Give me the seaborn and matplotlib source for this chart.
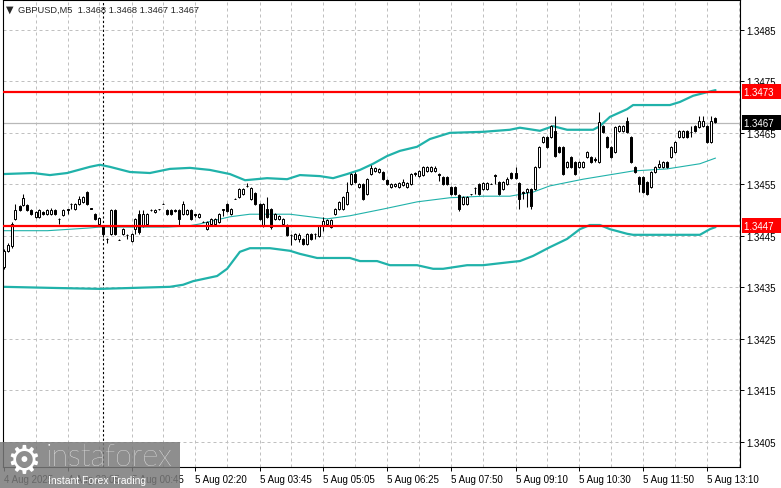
import matplotlib
matplotlib.use("Agg")
import numpy as np
import pandas as pd
import seaborn as sns
import matplotlib.pyplot as plt
import matplotlib.transforms as mtransforms
from matplotlib.patches import Rectangle

# prices are stored as pips above this level
BASE = 1.3400

# GBPUSD M5 candles (pips above 1.3400)
opens_pips = [
    38.9, 42.1, 43.0, 48.3, 50.8, 51.0, 51.0, 50.0, 48.7, 48.7,
    49.6, 49.2, 49.2, 50.0, 48.3, 49.1, 50.2, 51.2, 50.2, 51.2,
    51.6, 53.5, 50.4, 49.2, 47.3, 46.9, 44.4, 45.4, 50.0, 44.2,
    45.4, 45.2, 44.0, 46.3, 49.2, 46.9, 47.3, 50.0, 49.6, 50.2,
    51.2, 50.0, 50.0, 50.0, 50.0, 49.2, 49.2, 50.0, 49.2, 48.7,
    47.7, 46.3, 47.3, 47.3, 47.7, 50.2, 51.2, 49.2, 52.2, 52.5,
    53.1, 54.7, 52.2, 53.3, 51.2, 46.9, 50.2, 50.2, 48.3, 48.3,
    47.3, 47.1, 45.2, 44.4, 44.4, 44.4, 43.4, 45.4, 45.4, 45.0,
    46.9, 47.3, 46.7, 49.2, 50.2, 50.2, 51.2, 55.1, 57.0, 54.5,
    55.1, 53.1, 57.0, 57.6, 57.4, 57.4, 55.8, 54.5, 54.7, 54.5,
    54.9, 54.5, 55.1, 57.2, 56.6, 56.8, 57.6, 57.6, 57.6, 57.0,
    56.4, 56.4, 54.5, 54.5, 52.9, 51.2, 51.2, 53.1, 54.3, 55.1,
    54.1, 54.1, 55.1, 56.8, 55.5, 54.1, 55.1, 57.2, 57.2, 55.3,
    53.5, 53.5, 54.1, 54.1, 58.4, 63.2, 64.2, 64.2, 65.4, 62.3,
    62.3, 58.4, 60.3, 59.3, 58.4, 58.4, 60.3, 60.3, 59.9, 59.3,
    66.3, 64.2, 62.3, 61.3, 65.4, 65.4, 67.3, 64.2, 58.4, 56.4,
    56.4, 55.5, 54.5, 57.4, 58.4, 58.4, 59.3, 60.3, 61.3, 64.2,
    64.2, 65.4, 65.2, 66.3, 66.1, 66.3, 66.3, 63.2, 67.9,
]
highs_pips = [
    42.5, 43.6, 47.6, 51.2, 51.0, 53.1, 51.2, 50.2, 49.8, 50.2,
    49.8, 50.2, 50.4, 50.2, 48.5, 50.2, 50.3, 51.3, 51.4, 52.7,
    52.7, 53.7, 50.5, 49.4, 48.7, 47.1, 44.6, 50.2, 50.2, 44.3,
    46.5, 45.3, 45.6, 48.5, 50.0, 50.0, 49.4, 50.2, 50.2, 50.3,
    51.3, 50.2, 50.2, 50.2, 50.2, 51.8, 50.2, 50.2, 49.3, 49.4,
    47.8, 47.9, 48.5, 48.5, 49.4, 50.3, 51.4, 50.4, 52.3, 54.3,
    54.3, 55.3, 54.5, 53.5, 51.4, 51.4, 52.5, 50.4, 49.4, 49.1,
    48.5, 47.3, 45.4, 45.6, 45.6, 44.6, 45.6, 45.6, 45.5, 47.1,
    48.7, 48.3, 48.3, 50.4, 51.8, 52.7, 55.5, 57.2, 57.4, 55.3,
    55.3, 56.2, 58.8, 58.4, 58.2, 57.6, 56.0, 55.3, 55.3, 55.5,
    56.0, 55.5, 57.2, 57.4, 57.8, 58.6, 58.6, 58.6, 58.6, 57.2,
    56.6, 56.6, 54.7, 54.7, 53.1, 52.7, 52.7, 53.2, 54.4, 55.3,
    55.5, 55.5, 55.2, 57.0, 55.7, 55.7, 56.4, 57.4, 58.4, 55.5,
    53.7, 54.3, 54.3, 58.6, 62.5, 64.4, 64.4, 66.5, 68.3, 62.5,
    62.5, 59.5, 60.5, 59.5, 59.5, 59.5, 61.5, 60.5, 60.3, 69.1,
    66.5, 64.4, 62.5, 66.3, 66.5, 66.5, 68.1, 64.4, 58.6, 56.6,
    56.6, 55.7, 57.6, 58.6, 59.8, 59.5, 59.5, 62.5, 63.4, 65.6,
    65.6, 65.6, 66.3, 66.5, 68.3, 68.3, 66.5, 68.3, 68.1,
]
lows_pips = [
    38.5, 41.8, 42.6, 48.0, 49.8, 50.8, 49.8, 49.0, 48.5, 48.5,
    49.0, 49.0, 49.0, 49.0, 47.3, 48.9, 49.2, 50.2, 50.0, 51.0,
    51.4, 51.0, 50.2, 48.1, 47.1, 44.8, 43.6, 45.2, 45.2, 44.1,
    45.2, 44.4, 43.8, 45.4, 45.4, 46.7, 47.1, 49.8, 49.4, 50.1,
    51.1, 49.0, 49.0, 49.6, 46.9, 49.0, 49.0, 48.1, 48.7, 48.5,
    47.6, 46.1, 47.1, 47.1, 47.5, 48.9, 49.6, 49.0, 52.1, 52.3,
    52.9, 54.5, 52.0, 51.0, 48.1, 46.7, 48.5, 46.3, 48.1, 48.1,
    47.1, 45.0, 43.2, 44.2, 43.8, 43.2, 43.2, 44.2, 44.4, 44.8,
    45.9, 47.1, 46.5, 49.0, 50.0, 50.0, 51.0, 54.9, 55.3, 54.3,
    52.0, 52.9, 56.8, 57.4, 57.2, 55.8, 54.9, 54.3, 54.5, 54.3,
    54.7, 54.3, 54.9, 56.6, 56.4, 56.6, 57.4, 57.4, 57.4, 55.6,
    54.9, 54.9, 52.9, 52.9, 49.8, 51.0, 51.0, 53.0, 53.1, 52.9,
    53.9, 53.9, 55.0, 55.1, 52.9, 53.9, 54.9, 56.0, 56.0, 50.2,
    52.2, 50.6, 50.2, 53.9, 58.2, 63.0, 62.1, 64.0, 60.3, 61.1,
    56.8, 58.2, 58.2, 56.8, 58.2, 58.2, 60.1, 59.1, 59.3, 59.1,
    65.0, 62.1, 60.1, 61.1, 65.2, 65.2, 65.0, 59.1, 57.2, 53.5,
    53.3, 52.9, 54.3, 57.2, 58.2, 58.2, 58.2, 60.1, 61.1, 64.0,
    64.0, 64.0, 64.2, 65.2, 65.9, 66.1, 63.0, 63.0, 67.0,
]
closes_pips = [
    42.1, 43.2, 47.3, 50.0, 50.0, 52.4, 50.0, 49.2, 49.6, 50.0,
    49.2, 50.0, 50.0, 49.2, 48.2, 50.0, 50.1, 51.1, 51.2, 52.2,
    52.5, 51.2, 50.3, 48.3, 48.5, 45.4, 44.3, 50.0, 45.4, 44.2,
    46.3, 45.1, 45.4, 48.3, 45.8, 49.2, 49.2, 50.0, 50.0, 50.2,
    51.2, 49.2, 49.2, 49.9, 48.3, 51.2, 50.0, 48.3, 49.1, 49.2,
    47.7, 47.7, 48.3, 48.3, 49.2, 50.1, 49.8, 50.2, 52.2, 54.1,
    54.1, 54.6, 54.3, 51.2, 48.3, 51.2, 48.7, 46.7, 49.2, 48.9,
    48.3, 45.2, 45.1, 45.4, 45.2, 43.4, 45.4, 44.4, 45.3, 46.9,
    47.9, 48.1, 48.1, 50.2, 51.6, 52.5, 53.5, 57.0, 55.5, 55.1,
    52.2, 56.0, 58.2, 58.2, 58.0, 56.0, 55.1, 55.1, 55.1, 55.3,
    55.5, 55.3, 57.0, 57.1, 57.6, 58.4, 58.4, 58.4, 58.2, 56.9,
    55.1, 55.1, 53.1, 53.1, 50.2, 52.5, 52.5, 53.1, 54.2, 53.1,
    55.3, 55.3, 55.1, 56.7, 53.1, 55.5, 56.0, 56.2, 56.2, 52.2,
    53.4, 54.1, 50.8, 58.4, 62.3, 64.2, 62.3, 66.3, 60.5, 61.3,
    57.0, 59.3, 58.4, 57.0, 59.3, 59.3, 61.3, 59.3, 59.8, 67.1,
    65.2, 62.3, 60.3, 66.1, 66.3, 66.3, 65.2, 59.3, 57.4, 55.1,
    53.5, 53.1, 57.4, 58.4, 59.0, 59.3, 58.4, 62.3, 63.2, 65.4,
    65.4, 64.2, 65.1, 65.4, 67.3, 67.3, 63.2, 67.3, 67.2,
]

# Bollinger bands (bar index, pips above 1.3400)
upper_idx = [0, 7.4, 11.6, 15.9, 21.6, 24.1, 26.6, 31.6, 36.6, 41.6, 46.6,
             51.6, 56.6, 60.4, 65.9, 70.9, 74.1, 79.1, 82.4, 85.9, 89.1,
             92.4, 95.9, 99.1, 103.4, 106.6, 111.6, 119.9, 126.6, 129.1,
             134.1, 137.4, 140.9, 147.4, 149.1, 151.6, 155.9, 157.4, 166.6,
             169.1, 172.4, 175.9, 178]
upper_pips = [57.0, 57.2, 56.8, 57.2, 58.4, 58.8, 58.4, 57.4, 57.2, 58.0, 58.2,
              57.8, 57.0, 55.8, 56.2, 56.0, 56.8, 56.6, 56.2, 57.0, 57.8,
              59.0, 60.5, 61.5, 62.3, 63.8, 65.0, 65.2, 65.6, 66.0,
              65.4, 66.3, 65.6, 65.6, 66.3, 68.1, 69.6, 70.4, 70.4,
              71.0, 72.2, 72.9, 73.3]
mid_idx = [0, 11, 21, 24, 41, 46, 49, 56.6, 61.6, 71.6, 80.9, 86.6, 94.9,
           103.4, 111.6, 119.9, 126.6, 132.4, 136.6, 144.9, 157.4, 165.9,
           174.1, 178]
mid_pips = [46.0, 46.0, 46.5, 46.7, 46.7, 46.9, 47.3, 48.7, 49.2, 49.2, 48.3,
            48.9, 50.2, 51.6, 52.4, 52.7, 52.7, 53.5, 54.7, 56.0, 57.6, 58.0,
            59.0, 60.1]
lower_idx = [0, 11.6, 24.1, 41.6, 44.9, 47.4, 53.4, 55.9, 59.1, 61.6, 66.6,
             71.6, 74.1, 78.4, 86.6, 89.1, 93.4, 96.6, 103.4, 107.4, 109.9,
             115.9, 119.9, 126.6, 129.1, 132.4, 136.6, 140.9, 144.1, 146.6,
             149.1, 151.6, 155.9, 157.4, 174.1, 176.6, 178]
lower_pips = [35.1, 34.9, 34.7, 35.1, 35.5, 36.2, 37.2, 38.6, 41.9, 42.6, 42.6,
              42.1, 41.5, 40.7, 40.7, 40.1, 40.1, 39.3, 39.3, 38.6, 38.6,
              39.3, 39.3, 39.9, 40.1, 41.1, 42.8, 44.4, 46.3, 47.1,
              47.1, 46.3, 45.4, 45.2, 45.2, 46.3, 46.7]

levels = [1.3473, 1.3447]
bid_price = 1.3467
price_ticks = [1.3405, 1.3415, 1.3425, 1.3435, 1.3445, 1.3455, 1.3465, 1.3475, 1.3485]
time_tick_idx = [0, 16, 32, 48, 64, 80, 96, 112, 128, 144, 160, 176]
time_labels = ["4 Aug 2025", "4 Aug 23:05", "5 Aug 00:45", "5 Aug 02:20",
               "5 Aug 03:45", "5 Aug 05:05", "5 Aug 06:25", "5 Aug 07:50",
               "5 Aug 09:10", "5 Aug 10:30", "5 Aug 11:50", "5 Aug 13:10"]
separator_idx = 25
title = "GBPUSD,M5  1.3468 1.3468 1.3467 1.3467"

TEAL = "#20B2AA"
GRID = "#C0C0C0"

sns.set_style("white")
plt.rcParams["font.family"] = ["Liberation Sans", "DejaVu Sans"]

W, H = 781, 489
fig = plt.figure(figsize=(W / 100, H / 100), dpi=100)
ax = fig.add_axes([3 / W, 1 - 468 / H, 737 / W, 467 / H])

o = BASE + np.array(opens_pips) / 1e4
hi = BASE + np.array(highs_pips) / 1e4
lo = BASE + np.array(lows_pips) / 1e4
c = BASE + np.array(closes_pips) / 1e4
x = np.arange(len(c))

# grid
for gx in range(8, 185, 8):
    ax.axvline(gx, color=GRID, lw=0.72, ls=(0, (3, 3)), zorder=0)
for gy in price_ticks:
    ax.axhline(gy, color=GRID, lw=0.72, ls=(0, (3, 3)), zorder=0)

# bid line and separator
ax.axhline(bid_price, color="#b8b8b8", lw=0.9, zorder=1)
ax.axvline(separator_idx, color="black", lw=0.8, ls=(0, (2, 2)), zorder=1)

# Bollinger bands
bands = pd.DataFrame({"idx": upper_idx, "price": BASE + np.array(upper_pips) / 1e4})
sns.lineplot(data=bands, x="idx", y="price", ax=ax, color=TEAL, lw=1.6,
             estimator=None, sort=False, zorder=2)
bands = pd.DataFrame({"idx": lower_idx, "price": BASE + np.array(lower_pips) / 1e4})
sns.lineplot(data=bands, x="idx", y="price", ax=ax, color=TEAL, lw=1.6,
             estimator=None, sort=False, zorder=2)
bands = pd.DataFrame({"idx": mid_idx, "price": BASE + np.array(mid_pips) / 1e4})
sns.lineplot(data=bands, x="idx", y="price", ax=ax, color=TEAL, lw=0.8,
             estimator=None, sort=False, zorder=2)

# red levels
for lv in levels:
    ax.axhline(lv, color="#ff0000", lw=1.6, zorder=4)

# candles
ax.vlines(x, lo, hi, color="black", lw=0.75, zorder=3)
up = c >= o
body_bottom = np.minimum(o, c)
body_h = np.maximum(np.abs(c - o), 0.000002)
ax.bar(x[up], body_h[up], bottom=body_bottom[up], width=0.5, color="white",
       edgecolor="black", linewidth=0.72, zorder=3)
ax.bar(x[~up], body_h[~up], bottom=body_bottom[~up], width=0.5, color="black",
       edgecolor="black", linewidth=0.72, zorder=3)

ax.set_xlim(-0.125, 184.125)
ax.set_ylim(1.340011, 1.349080)

# axes
ax.yaxis.tick_right()
ax.set_yticks(price_ticks)
ax.set_yticklabels([f"{p:.4f}" for p in price_ticks])
ax.set_xticks(time_tick_idx)
ax.set_xticklabels(time_labels)
for lab in ax.get_xticklabels():
    lab.set_ha("left")
ax.tick_params(axis="y", direction="out", length=3, width=0.7, pad=1.5,
               labelsize=7, colors="black", right=True)
ax.tick_params(axis="x", direction="out", length=3, width=0.7, pad=2,
               labelsize=7, colors="black", bottom=True)
ax.set_xlabel("")
ax.set_ylabel("")
for sp in ax.spines.values():
    sp.set_color("black")
    sp.set_linewidth(0.8)
    sp.set_visible(True)

# price boxes on the scale
trans = mtransforms.blended_transform_factory(ax.transAxes, ax.transData)
for lv in levels:
    ax.text(1.0055, lv, f"{lv:.4f}  ", transform=trans, ha="left", va="center",
            fontsize=7, color="white", clip_on=False, zorder=6,
            bbox=dict(boxstyle="square,pad=0.25", fc="#ff0000", ec="none"))
ax.text(1.0055, bid_price, f"{bid_price:.4f}  ", transform=trans, ha="left",
        va="center", fontsize=7, color="white", clip_on=False, zorder=6,
        bbox=dict(boxstyle="square,pad=0.25", fc="black", ec="none"))

# title
fig.text(6 / W, 1 - 10 / H, "\u25bc", fontsize=7, va="center", ha="left",
         family=["DejaVu Sans"])
fig.text(18 / W, 1 - 10 / H, title, fontsize=6.7, va="center", ha="left")

# watermark
fig.patches.append(Rectangle((0, 0), 180 / W, 46 / H, transform=fig.transFigure,
                             fc="#7a7a7a", ec="none", alpha=0.85, zorder=10))
fig.text(24 / W, 1 - 462 / H, "\u2699", fontsize=28, color="white", ha="center",
         va="center", family=["DejaVu Sans"], zorder=11)
fig.text(46 / W, 1 - 458 / H, "instaforex", fontsize=22, color="white",
         ha="left", va="center", family=["Lato", "DejaVu Sans"],
         fontweight="light", zorder=11)
fig.text(48 / W, 1 - 481 / H, "Instant Forex Trading", fontsize=7.5,
         color="white", ha="left", va="center", zorder=11)

fig.savefig("out.png", dpi=100)
